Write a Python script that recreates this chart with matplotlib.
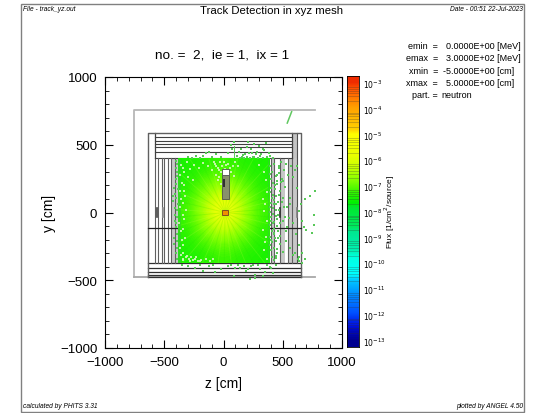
import numpy as np
import matplotlib
matplotlib.use("Agg")
import matplotlib.pyplot as plt
from matplotlib.colors import LinearSegmentedColormap
from matplotlib.patches import Rectangle

plt.rcParams['font.family'] = ['Liberation Sans', 'DejaVu Sans']

W, H = 539, 414
fig = plt.figure(figsize=(W/100, H/100), dpi=100)

def axpx(l, t, r, b):
    return fig.add_axes([l/W, 1-b/H, (r-l)/W, (b-t)/H])

def tpx(x, y, s, **k):
    k.setdefault('va', 'center')
    fig.text(x/W, 1-y/H, s, **k)

# ---- data -----
log_flux = [
    [-7.70, -7.65, -7.60, -7.50, -7.45, -7.50, -7.60, -7.65, -7.70],
    [-7.65, -7.55, -7.40, -7.25, -7.15, -7.25, -7.40, -7.55, -7.65],
    [-7.60, -7.40, -7.15, -6.85, -6.70, -6.85, -7.15, -7.40, -7.60],
    [-7.50, -7.25, -6.85, -6.40, -5.95, -6.40, -6.85, -7.25, -7.50],
    [-7.45, -7.15, -6.70, -5.95, -5.20, -5.95, -6.70, -7.15, -7.45],
    [-7.50, -7.25, -6.85, -6.40, -5.95, -6.40, -6.85, -7.25, -7.50],
    [-7.60, -7.40, -7.15, -6.85, -6.70, -6.85, -7.15, -7.40, -7.60],
    [-7.65, -7.55, -7.40, -7.25, -7.15, -7.25, -7.40, -7.55, -7.65],
    [-7.70, -7.65, -7.60, -7.50, -7.45, -7.50, -7.60, -7.65, -7.70],
]
# stray track marks (z, y) in cm
top_z = [-170, -150, -120, -95, -60, -20, 40, 60, 75, 90, 110, 130, 150, 165, 180, 195, 205, 215, 230, 240, 255, 260, 275, 285, 300, 310, 320, 335, 345, 360, 370, 380, 390, 420,
         -300, -270, -230, -200, 140, 160, 175, 200, 225, 250, 290, 330]
top_y = [420, 440, 450, 410, 430, 410, 440, 500, 470, 520, 415, 450, 470, 425, 430, 480, 520, 440, 470, 440, 505, 410, 430, 450, 490, 420, 430, 470, 460, 510, 410, 440, 420, 400,
         410, 405, 415, 405, 405, 410, 402, 408, 405, 410, 405, 402]
right_z = [395, 410, 425, 440, 455, 470, 490, 510, 530, 400, 415, 430, 450, 475, 500, 520, 545, 570, 600, 395, 420, 445, 470, 490, 515, 540, 565, 590, 620,
           405, 430, 455, 480, 505, 530, 555, 585, 610, 640, 665, 400, 425, 450, 475, 500, 530, 560, 590, 625, 660,
           392, 405, 418, 432, 446, 460, 392, 404, 416, 428, 440, 452, 464, 392, 402, 412, 422, 432, 442, 452, 392, 408, 424, 440, 456, 472, 488,
           396, 412, 428, 444, 460, 476, 398, 415, 432, 449, 466, 483, 500, 395, 410, 425, 440, 470, 510, 540, 560]
right_y = [340, 300, 360, 270, 210, 330, 250, 310, 360, 180, 130, 90, 230, 160, 110, 190, 280, 340, 310, 40, -10, 60, 20, 80, -30, 40, 110, 260, 180,
           -60, -120, -100, -170, -60, -140, -40, -80, -160, -240, -300, -200, -260, -300, -230, -290, -210, -260, -310, -340, -370,
           285, 250, 215, 170, 125, 75, 5, -30, -75, -150, -210, -45, -135, -240, -280, -330, -350, -190, -335, -270, 150, 110, 60, 15, -20, 290, 225,
           -180, -215, -155, -25, -190, -75, 70, 30, 200, 275, 340, 375, 235, -95, -135, -70, -320, 130, 40, -110, 60]
far_z = [730, 690, 640, 760, 660, 760, 700, 600, 640, 690, 640, 620, 650, 745, 770, 680]
far_y = [124, 100, 10, -20, -60, -90, -130, -300, -330, -345, -360, 340, 60, -150, 160, -110]
bot_z = [-300, -240, -170, -120, -70, -20, 40, 90, 140, 190, 230, 270, 310, 350, 390, 420, 270, 330, 220, -350, -200, -90, 60, 120, 170, 250, 290, 370, 400, 440, 210, 100]
bot_y = [-395, -410, -430, -395, -440, -415, -395, -470, -410, -435, -395, -460, -420, -440, -400, -450, -480, -470, -490, -385, -385, -390, -385, -390, -395, -385, -390, -385, -410, -385, -420, -410]
left_z = [-405, -420, -400, -395, -410, -395, -415, -402, -398, -412, -390, -425, -392, -408, -388, -400, -418, -390, -405, -395, -390, -412, -402, -388, -395, -422, -392, -400]
left_y = [250, 180, 110, 20, -60, -160, -230, -300, 330, -20, 360, 85, 300, 140, 60, -110, -190, -260, 210, 270, -340, 30, -80, 170, -210, 120, -30, 380]
speck_z = [-360, -340, -310, -280, -250, -210, -170, -130, -100, -70, -50, -30, -10, 10, 40, 80, -365, -350, -370, -355, -365, -345, -372, -360, -350, -370, -355, -340,
           -60, -40, -20, -50, -25, 60, 85, -345, -320, -280, -240, -200, -330, -300, -260, 300, 340, 355, 365, 350, 370, 360, 345, 365,
           -335, -325, -345, -330, -340, -325, -345, -335, -320, -340, -310, -295, -275, -255, -235, -215, -190, -150, -115, -85, 330, 345, 335, 350, -80, -65, -35, 5, 25, 55, 100, 120]
speck_y = [350, 330, 370, 320, 350, 330, 365, 340, 310, 355, 330, 370, 345, 320, 360, 340, 280, 220, 160, 100, 40, -20, -80, -140, -200, -260, -310, -345,
           280, 260, 300, 240, 210, 300, 270, -350, -330, -360, -340, -355, 300, 260, 240, 350, 300, 240, 150, 60, -60, -180, -280, -340,
           200, 120, 70, -50, -120, -190, -240, 160, 20, -300, -320, -345, -325, -350, -330, -360, -350, -345, -355, -340, 100, 10, -130, -220, 370, 340, 315, 375, 350, 325, 370, 345]
ray_deg = [4, 12, 19, 27, 36, 44, 51, 59, 66, 75, 83, 92, 101, 109, 118, 127, 134, 143, 151, 159, 168, 177,
           185, 194, 201, 210, 219, 226, 235, 243, 252, 261, 269, 278, 286, 295, 303, 312, 320, 329, 338, 347, 355]

top_lines_y = [555, 530, 505, 485, 447, 400]
bot_lines_y = [-375, -410, -437, -459, -476]
left_cols = [-575, -552, -519, -502, -468, -443, -409]
right_cols = [400, 430, 475, 545, 575]
cb_levels = [-3.0, -3.5, -4.0, -4.5, -5.0, -5.5, -6.0, -6.5, -7.0, -7.5, -8.0, -8.5, -9.0, -9.5, -10.0, -10.5, -11.0, -11.5, -12.0, -12.5, -13.0]
cb_ticks = [-3, -4, -5, -6, -7, -8, -9, -10, -11, -12, -13]
cb_labels = ['$10^{-%d}$' % -t for t in cb_ticks]
info = [("emin  =", "0.0000E+00 [MeV]"), ("emax  =", "3.0000E+02 [MeV]"),
        ("xmin  =", "-5.0000E+00 [cm]"), ("xmax  =", "5.0000E+00 [cm]"), ("part. =", "neutron")]

vmin, vmax = -13.25, -2.73
stops = [(-13.25, '#000090'), (-12.9, '#0010e0'), (-12.4, '#0050ff'), (-11.6, '#0090ff'), (-11.05, '#00c8ff'),
         (-10.8, '#00ffff'), (-10.1, '#00ffe0'), (-9.8, '#00f0b0'), (-9.1, '#00e890'), (-8.9, '#00e860'), (-8.1, '#00e830'),
         (-7.9, '#00f000'), (-7.5, '#30f400'), (-7.0, '#80ff00'), (-6.5, '#c0ff00'), (-6.0, '#e8ff00'), (-5.1, '#ffff00'),
         (-4.9, '#ffd000'), (-4.0, '#ffa000'), (-3.2, '#ff5000'), (-3.0, '#f03000'), (-2.73, '#e80000')]
cmap = LinearSegmentedColormap.from_list('phits', [((v-vmin)/(vmax-vmin), c) for v, c in stops])

# ---- frame -----
fig.add_artist(Rectangle((20.5/W, 1-413/H), 503/W, 408.5/H, transform=fig.transFigure,
                         fill=False, ec='#808080', lw=1.0))

ax = axpx(105, 78, 342, 349)

# outer thin shell
ax.plot([772, -755, -755], [753, 753, -476], color='#b8b8b8', lw=1.3, zorder=2)
ax.plot([-755, 772], [-476, -476], color='#a8a8a8', lw=1.3, zorder=2)

# gray bands on walls
for a, b in [(-443, -384), (400, 430), (475, 520), (545, 575), (575, 620)]:
    ax.add_patch(Rectangle((a, -375), b-a, 775, fc='#c8c8c8', ec='none', zorder=2))
ax.add_patch(Rectangle((575, 400), 45, 187, fc='#c4c4c4', ec='none', zorder=2))

for yy in top_lines_y:
    ax.plot([-575, 575], [yy, yy], color='#404040', lw=0.8, zorder=3)
for yy in bot_lines_y:
    ax.plot([-635, 657], [yy, yy], color='#303030', lw=0.9, zorder=3)
for zz in left_cols + right_cols:
    ax.plot([zz, zz], [-375, 400], color='#606060', lw=0.8, zorder=3)
ax.plot([-575, -575], [400, 587], color='#404040', lw=0.9, zorder=3)
ax.plot([575, 575], [400, 587], color='#404040', lw=0.9, zorder=3)
ax.plot([620, 620], [-375, 587], color='#505050', lw=0.8, zorder=3)
ax.plot([-635, -635, 657, 657], [-476, 587, 587, -476], color='#606060', lw=1.0, zorder=3)
ax.plot([-635, -384], [-117, -117], color='#202020', lw=0.9, zorder=3)
ax.plot([384, 657], [-117, -117], color='#202020', lw=0.9, zorder=3)
for zz, c in [(-565, '#404040'), (-510, '#909090'), (480, '#303030'), (620, '#808080')]:
    ax.plot([zz, zz], [-30, 30], color=c, lw=1.2, zorder=4)

# flux mesh
ax.imshow(log_flux, extent=[-384, 384, -373, 395], origin='upper', aspect='auto', cmap=cmap,
          vmin=vmin, vmax=vmax, interpolation='bicubic', zorder=4)
ax.set_xlim(-1000, 1000)
ax.set_ylim(-1000, 1000)

# rays from the source
clip = Rectangle((-384, -373), 768, 768, transform=ax.transData)
for i, d in enumerate(ray_deg):
    a = np.deg2rad(d)
    c = '#c8ff40' if i % 2 else '#20e000'
    ln, = ax.plot([13, 13+800*np.cos(a)], [0, 800*np.sin(a)], color=c, lw=0.7, alpha=0.18, zorder=5)
    ln.set_clip_path(clip)
ax.add_patch(Rectangle((-384, -373), 26, 768, fc='#38c838', ec='none', alpha=0.55, zorder=5))
ax.add_patch(Rectangle((372, -373), 12, 768, fc='#38c838', ec='none', alpha=0.6, zorder=5))

for zs, ys in [(top_z, top_y), (right_z, right_y), (far_z, far_y), (bot_z, bot_y), (left_z, left_y)]:
    ax.scatter(zs, ys, s=2.4, marker='s', color='#58c858', lw=0, zorder=6)
ax.scatter(speck_z, speck_y, s=1.3, marker='s', color='#d8f8c0', lw=0, alpha=0.85, zorder=6)
ax.plot([575, 538], [744, 660], color='#60c860', lw=1.1, zorder=6)
ax.plot([90, 90], [400, 490], color='#58c858', lw=0.7, zorder=6)

# detector & source
ax.add_patch(Rectangle((-15, 100), 60, 175, fc='#88906c', ec='#505050', lw=0.6, zorder=7))
ax.add_patch(Rectangle((-5, 190), 14, 55, fc='#303030', ec='none', zorder=8))
ax.add_patch(Rectangle((-15, 275), 62, 45, fc='white', ec='#505050', lw=0.6, zorder=7))
ax.add_patch(Rectangle((-10, -20), 45, 40, fc='#f09000', ec='#805020', lw=0.7, zorder=7))

ax.set_xticks([-1000, -500, 0, 500, 1000])
ax.set_yticks([-1000, -500, 0, 500, 1000])
ax.set_xticks(range(-1000, 1001, 100), minor=True)
ax.set_yticks(range(-1000, 1001, 100), minor=True)
ax.tick_params(which='major', direction='in', top=True, right=True, length=5.5, width=0.8, labelsize=9.5, pad=5.5)
ax.tick_params(which='minor', direction='in', top=True, right=True, length=2.8, width=0.6)
for s in ax.spines.values():
    s.set_linewidth(0.8)
ax.set_xlabel('z [cm]', fontsize=10, labelpad=6)
ax.set_ylabel('y [cm]', fontsize=10, labelpad=3)

# colour bar
cax = axpx(347, 77, 359, 348)
ramp = np.array(cb_levels + [vmin], dtype=float)
cax.imshow(ramp.reshape(-1, 1), extent=[0, 1, vmin, vmax], aspect='auto', cmap=cmap, vmin=vmin, vmax=vmax,
           interpolation='bilinear')
for base in cb_ticks[1:]:
    for f in [0.3, 0.48, 0.6, 0.7, 0.78, 0.85]:
        cax.plot([0, 1], [base+f, base+f], color='#303030', alpha=0.3, lw=0.6)
cax.set_xlim(0, 1)
cax.set_ylim(vmin, vmax)
cax.set_xticks([])
cax.yaxis.tick_right()
cax.set_yticks(cb_ticks)
cax.set_yticklabels(cb_labels, fontsize=5.5)
cax.tick_params(length=0, pad=3)
for s in cax.spines.values():
    s.set_linewidth(0.6)

tpx(272, 11, 'Track Detection in xyz mesh', ha='center', fontsize=8.2)
tpx(222, 56, 'no. =  2,  ie = 1,  ix = 1', ha='center', fontsize=9.7)
tpx(23, 9.5, 'File - track_yz.out', fontsize=4.8, style='italic')
tpx(523, 9.5, 'Date - 00:51 22-Jul-2023', ha='right', fontsize=4.8, style='italic')
tpx(23, 407, 'calculated by PHITS 3.31', fontsize=4.8, style='italic')
tpx(523, 407, 'plotted by ANGEL 4.50', ha='right', fontsize=4.8, style='italic')
tpx(390, 212, 'Flux [1/cm$^2$/source]', rotation=90, ha='center', fontsize=6)
for i, (a, b) in enumerate(info):
    yy = 46.5 + i*12.3
    tpx(438, yy, a, ha='right', fontsize=6.5)
    tpx(441 if i == 4 else (443 if i == 2 else 446), yy, b, fontsize=6.5)

fig.savefig('out.png', dpi=100)
